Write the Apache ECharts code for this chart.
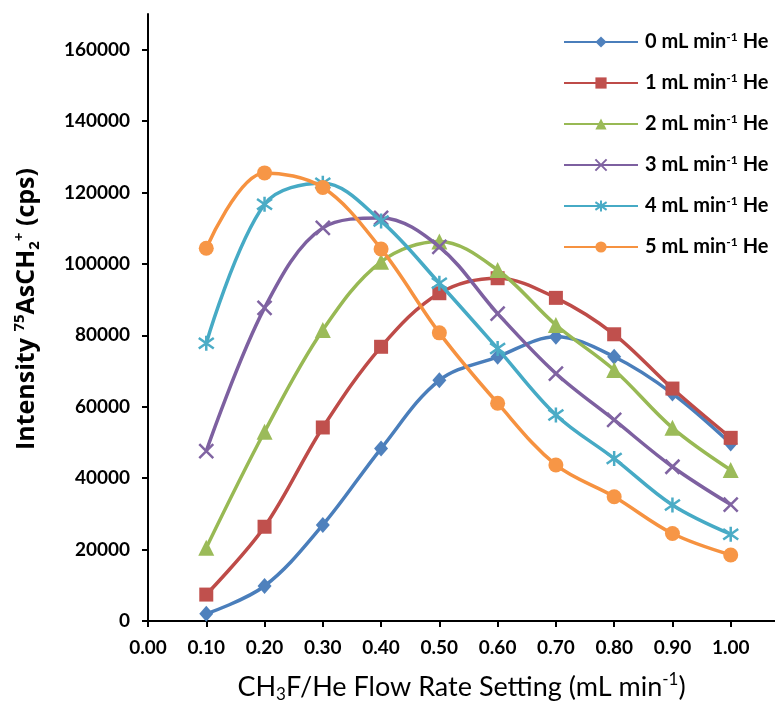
<!DOCTYPE html>
<html>
<head>
<meta charset="utf-8">
<script src="https://cdn.jsdelivr.net/npm/echarts@6/dist/echarts.min.js"></script>
<style>
html,body{margin:0;padding:0;background:#fff;}
#chart{width:775px;height:704px;}
</style>
</head>
<body>
<div id="chart"></div>
<script>
// ---- data ----
const flowRates = [0.1, 0.2, 0.3, 0.4, 0.5, 0.6, 0.7, 0.8, 0.9, 1.0];
const heLevels = ['0', '1', '2', '3', '4', '5'];
const he0 = [2000, 9800, 26900, 48300, 67400, 74000, 79600, 74000, 63700, 49700];
const he1 = [7400, 26400, 54200, 76800, 91800, 96000, 90500, 80300, 65100, 51300];
const he2 = [20500, 53000, 81500, 100600, 106300, 98300, 82900, 70300, 54100, 42300];
const he3 = [47600, 87700, 110100, 112900, 104800, 86100, 69300, 56300, 43200, 32600];
const he4 = [77800, 116700, 122600, 112000, 94600, 76300, 57700, 45500, 32500, 24300];
const he5 = [104400, 125500, 121400, 104200, 80700, 61000, 43700, 34800, 24500, 18500];
const seriesValues = [he0, he1, he2, he3, he4, he5];
const xTickLabels = ['0.00','0.10','0.20','0.30','0.40','0.50','0.60','0.70','0.80','0.90','1.00'];
const yTickLabels = ['0','20000','40000','60000','80000','100000','120000','140000','160000'];

// ---- styles ----
const lineColors = ['#4A7EBB', '#BE4B48', '#98B954', '#7D60A0', '#46AAC5', '#F69240'];
const markColors = ['#4F81BD', '#C0504D', '#9BBB59', '#8064A2', '#4BACC6', '#F79646'];
const symbols = [
  'diamond', 'rect', 'triangle',
  'path://M0,0L10,10M10,0L0,10',
  'path://M5,0L5,10M0.5,1.5L9.5,8.5M0.5,8.5L9.5,1.5',
  'circle'
];
const symbolSizes = [[14,16], 14, 16, 14, 15, 15];
const FONT = 'Lato';

const names = heLevels.map(h => h + ' mL min-1 He');

const series = seriesValues.map((vals, i) => {
  const isStroke = i === 3 || i === 4;
  return {
    name: names[i],
    type: 'line',
    smooth: 0.35,
    data: flowRates.map((x, j) => [x, vals[j]]),
    symbol: symbols[i],
    symbolSize: symbolSizes[i],
    showSymbol: true,
    lineStyle: { color: lineColors[i], width: 3.5 },
    itemStyle: isStroke
      ? { color: markColors[i], borderColor: markColors[i], borderWidth: 2.5 }
      : { color: markColors[i], borderWidth: 0 },
    emphasis: { disabled: true },
    z: 2 + i
  };
});

const chart = echarts.init(document.getElementById('chart'), null, { renderer: 'canvas' });
chart.setOption({
  animation: false,
  backgroundColor: '#ffffff',
  textStyle: { fontFamily: FONT },
  grid: { left: 148, right: 0, top: 14, bottom: 83, containLabel: false, outerBoundsMode: 'none' },
  legend: {
    orient: 'vertical',
    left: 558,
    top: 26,
    itemWidth: 74,
    itemHeight: 14,
    itemGap: 20,
    data: names,
    formatter: function (name) {
      const n = name.split(' ')[0];
      return '{a|' + n + ' mL min}{s|-1}{a| He}';
    },
    textStyle: {
      padding: [0, 0, 0, 2],
      rich: {
        a: { fontFamily: FONT, fontWeight: 'bold', fontSize: 20, color: '#000', lineHeight: 22 },
        s: { fontFamily: FONT, fontWeight: 'bold', fontSize: 12, color: '#000', verticalAlign: 'top', lineHeight: 14 }
      }
    }
  },
  xAxis: {
    type: 'value',
    min: 0,
    max: 1.076,
    interval: 0.1,
    name: '{n|CH}{sub|3}{n|F/He Flow Rate Setting (mL min}{sup|-1}{n|)}',
    nameLocation: 'middle',
    nameGap: 50,
    nameTextStyle: {
      rich: {
        n: { fontFamily: FONT, fontSize: 27, color: '#000', lineHeight: 32 },
        sub: { fontFamily: FONT, fontSize: 17, color: '#000', verticalAlign: 'bottom', lineHeight: 16 },
        sup: { fontFamily: FONT, fontSize: 17, color: '#000', verticalAlign: 'top', lineHeight: 18 }
      }
    },
    axisLine: { show: true, onZero: false, lineStyle: { color: '#000', width: 2 } },
    axisTick: { show: true, length: 6, lineStyle: { color: '#000', width: 2 } },
    splitLine: { show: false },
    axisLabel: {
      margin: 17,
      showMaxLabel: false,
      fontFamily: FONT, fontWeight: 'bold', fontSize: 19, color: '#000',
      formatter: function (v) {
        const idx = Math.round(v * 10);
        return idx <= 10 ? xTickLabels[idx] : '';
      }
    }
  },
  yAxis: {
    type: 'value',
    min: 0,
    max: 170000,
    interval: 20000,
    name: '{b|Intensity }{sup|75}{b|AsCH}{sub|2}{sup|+}{b| (cps)}',
    nameLocation: 'middle',
    nameRotate: 90,
    nameGap: 106,
    nameTextStyle: {
      padding: [0, 0, 0, 17],
      rich: {
        b: { fontFamily: 'Open Sans', fontWeight: 'bold', fontSize: 25, color: '#000', lineHeight: 30 },
        sub: { fontFamily: 'Open Sans', fontWeight: 'bold', fontSize: 15, color: '#000', verticalAlign: 'bottom', lineHeight: 16 },
        sup: { fontFamily: 'Open Sans', fontWeight: 'bold', fontSize: 15, color: '#000', verticalAlign: 'top', lineHeight: 18 }
      }
    },
    axisLine: { show: true, lineStyle: { color: '#000', width: 2 } },
    axisTick: { show: true, length: 6, lineStyle: { color: '#000', width: 2 } },
    splitLine: { show: false },
    axisLabel: {
      margin: 18,
      showMaxLabel: false,
      fontFamily: FONT, fontWeight: 'bold', fontSize: 19, color: '#000',
      formatter: function (v) {
        const idx = Math.round(v / 20000);
        return (v % 20000 === 0 && idx < yTickLabels.length) ? yTickLabels[idx] : '';
      }
    }
  },
  series: series
});
</script>
</body>
</html>
